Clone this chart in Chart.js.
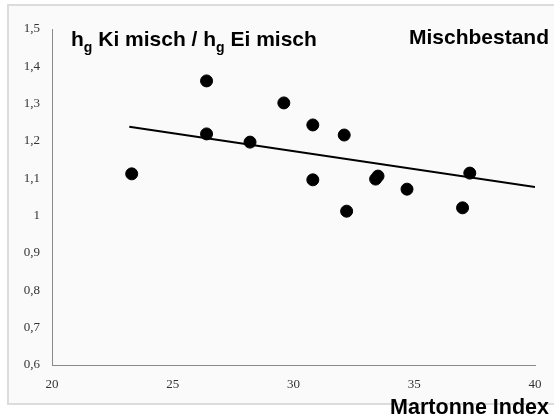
<!DOCTYPE html>
<html>
<head>
<meta charset="utf-8">
<script src="https://cdn.jsdelivr.net/npm/chart.js@4"></script>
<style>
  html, body { margin: 0; padding: 0; background: #fff; }
  #wrap { width: 554px; height: 419px; position: relative; }
</style>
</head>
<body>
<div id="wrap"><canvas id="chart1" width="554" height="419"></canvas></div>
<script>
// Martonne index (x) vs. h_g ratio (y)
const martonne = [23.3, 26.4, 26.4, 28.2, 29.6, 30.8, 30.8, 32.1, 32.2, 33.4, 33.5, 34.7, 37.0, 37.3];
const ratio    = [1.112, 1.361, 1.219, 1.197, 1.302, 1.243, 1.096, 1.216, 1.012, 1.098, 1.106, 1.071, 1.021, 1.114];

// linear trend line end points
const trendX = [23.2, 40];
const trendY = [1.238, 1.077];

const xTicks = [20, 25, 30, 35, 40];
const yTicks = [0.6, 0.7, 0.8, 0.9, 1.0, 1.1, 1.2, 1.3, 1.4, 1.5];

const scatterPts = martonne.map((x, i) => ({ x: x, y: ratio[i] }));
const trendPts = trendX.map((x, i) => ({ x: x, y: trendY[i] }));

// frame + background and the texts
const decorPlugin = {
    id: 'decor',
    beforeDraw(chart) {
        const ctx = chart.ctx;
        ctx.save();
        ctx.fillStyle = '#fafafa';
        ctx.fillRect(8, 5, 560, 399);
        ctx.strokeStyle = '#dcdcdc';
        ctx.lineWidth = 2;
        ctx.strokeRect(8, 5, 560, 399);
        ctx.restore();
    },
    afterDraw(chart) {
        const ctx = chart.ctx;
        ctx.save();
        ctx.fillStyle = '#000';
        ctx.textBaseline = 'alphabetic';
        const big = 'bold 21px "Liberation Sans", Arial, sans-serif';
        const sub = 'bold 14px "Liberation Sans", Arial, sans-serif';
        // title with subscripts
        let x = 71, y = 46;
        const parts = [['h', big, 0], ['g', sub, 6], [' Ki misch / h', big, 0], ['g', sub, 6], [' Ei misch', big, 0]];
        parts.forEach(p => {
            ctx.font = p[1];
            ctx.fillText(p[0], x, y + p[2]);
            x += ctx.measureText(p[0]).width;
        });
        ctx.font = big;
        ctx.textAlign = 'right';
        ctx.fillText('Mischbestand', 549, 44);
        ctx.font = 'bold 21.5px "Liberation Sans", Arial, sans-serif';
        ctx.fillText('Martonne Index', 549, 414);
        ctx.restore();
    }
};

const tickFont = { family: '"Liberation Serif", "Times New Roman", serif', size: 13 };

let chart1 = new Chart(document.getElementById('chart1'), {
    type: 'scatter',
    data: {
        datasets: [{
            label: 'Bestände',
            data: scatterPts,
            backgroundColor: '#000',
            borderColor: '#000',
            pointRadius: 6,
            pointHoverRadius: 6
        }, {
            type: 'line',
            label: 'Trend',
            data: trendPts,
            borderColor: '#000',
            borderWidth: 2,
            pointRadius: 0,
            fill: false
        }]
    },
    options: {
        responsive: false,
        maintainAspectRatio: false,
        animation: false,
        layout: {
            padding: { top: 29, right: 19, left: 0, bottom: 0 }
        },
        plugins: {
            legend: { display: false },
            tooltip: { enabled: false }
        },
        scales: {
            x: {
                type: 'linear',
                min: 20,
                max: 40,
                afterBuildTicks: s => { s.ticks = xTicks.map(v => ({ value: v })); },
                afterFit: s => { s.height = 54; },
                grid: { display: false, drawTicks: false },
                border: { display: true, color: '#8a8a8a', width: 1 },
                ticks: { color: '#333', font: tickFont, padding: 12 }
            },
            y: {
                type: 'linear',
                min: 0.6,
                max: 1.5,
                afterBuildTicks: s => { s.ticks = yTicks.map(v => ({ value: v })); },
                afterFit: s => { s.width = 52; },
                grid: { display: false, drawTicks: false },
                border: { display: true, color: '#8a8a8a', width: 1 },
                ticks: {
                    color: '#333',
                    font: tickFont,
                    padding: 12,
                    callback: v => String(Math.round(v * 10) / 10).replace('.', ',')
                }
            }
        }
    },
    plugins: [decorPlugin]
});
</script>
</body>
</html>
